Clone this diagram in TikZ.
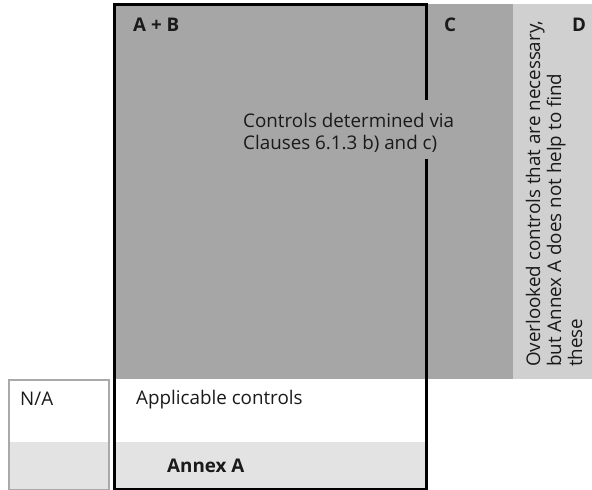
\documentclass[tikz,border=0pt]{standalone}
\usepackage{fontspec}
\setmainfont{Open Sans}
\definecolor{darkfill}{HTML}{A6A6A6}
\definecolor{midfill}{HTML}{D0D0D0}
\definecolor{lightfill}{HTML}{E3E3E3}
\definecolor{naborder}{HTML}{A9A9A9}
\definecolor{ink}{HTML}{1A1A1A}
\begin{document}
\begin{tikzpicture}[x=1pt,y=-1pt,
  txt/.style={inner sep=0pt,text=ink,font=\fontsize{18.8}{22}\selectfont},
  bold/.style={txt,font=\fontsize{18.8}{22}\selectfont\bfseries},
  frame/.style={line width=3pt,draw=black}]
\useasboundingbox (0,0) rectangle (592,490);
% shaded bands
\fill[darkfill] (114,4) rectangle (513,379);
\fill[midfill] (513,4) rectangle (592,379);
\fill[lightfill] (114,442) rectangle (426,489);
% N/A box
\fill[lightfill] (9,442) rectangle (109,489);
\draw[naborder,line width=2.5pt] (9,380) rectangle (109,490);
% A + B frame, open on the right where the label passes
\draw[frame] (426,100) -- (426,4) -- (114,4) -- (114,489) -- (426,489) -- (426,159);
% labels
\node[bold,anchor=base west] (ab) at (133,31) {A + B};
\node[bold,anchor=base west] (c) at (444,31) {C};
\node[bold,anchor=base west] (d) at (572,31) {D};
\node[txt,anchor=base west,align=left] (via) at (243,149)
  {Controls determined via\\Clauses 6.1.3 b) and c)};
\node[txt,anchor=base west,align=left,rotate=90,
  font=\fontsize{18.8}{21}\selectfont] (over) at (582,367)
  {Overlooked controls that are necessary,\\but Annex A does not help to find\\these};
\node[txt,anchor=base west] (na) at (20,405) {N/A};
\node[txt,anchor=base west] (app) at (136,404) {Applicable controls};
\node[bold,anchor=base west] (annex) at (167,472) {Annex A};
\end{tikzpicture}
\end{document}
